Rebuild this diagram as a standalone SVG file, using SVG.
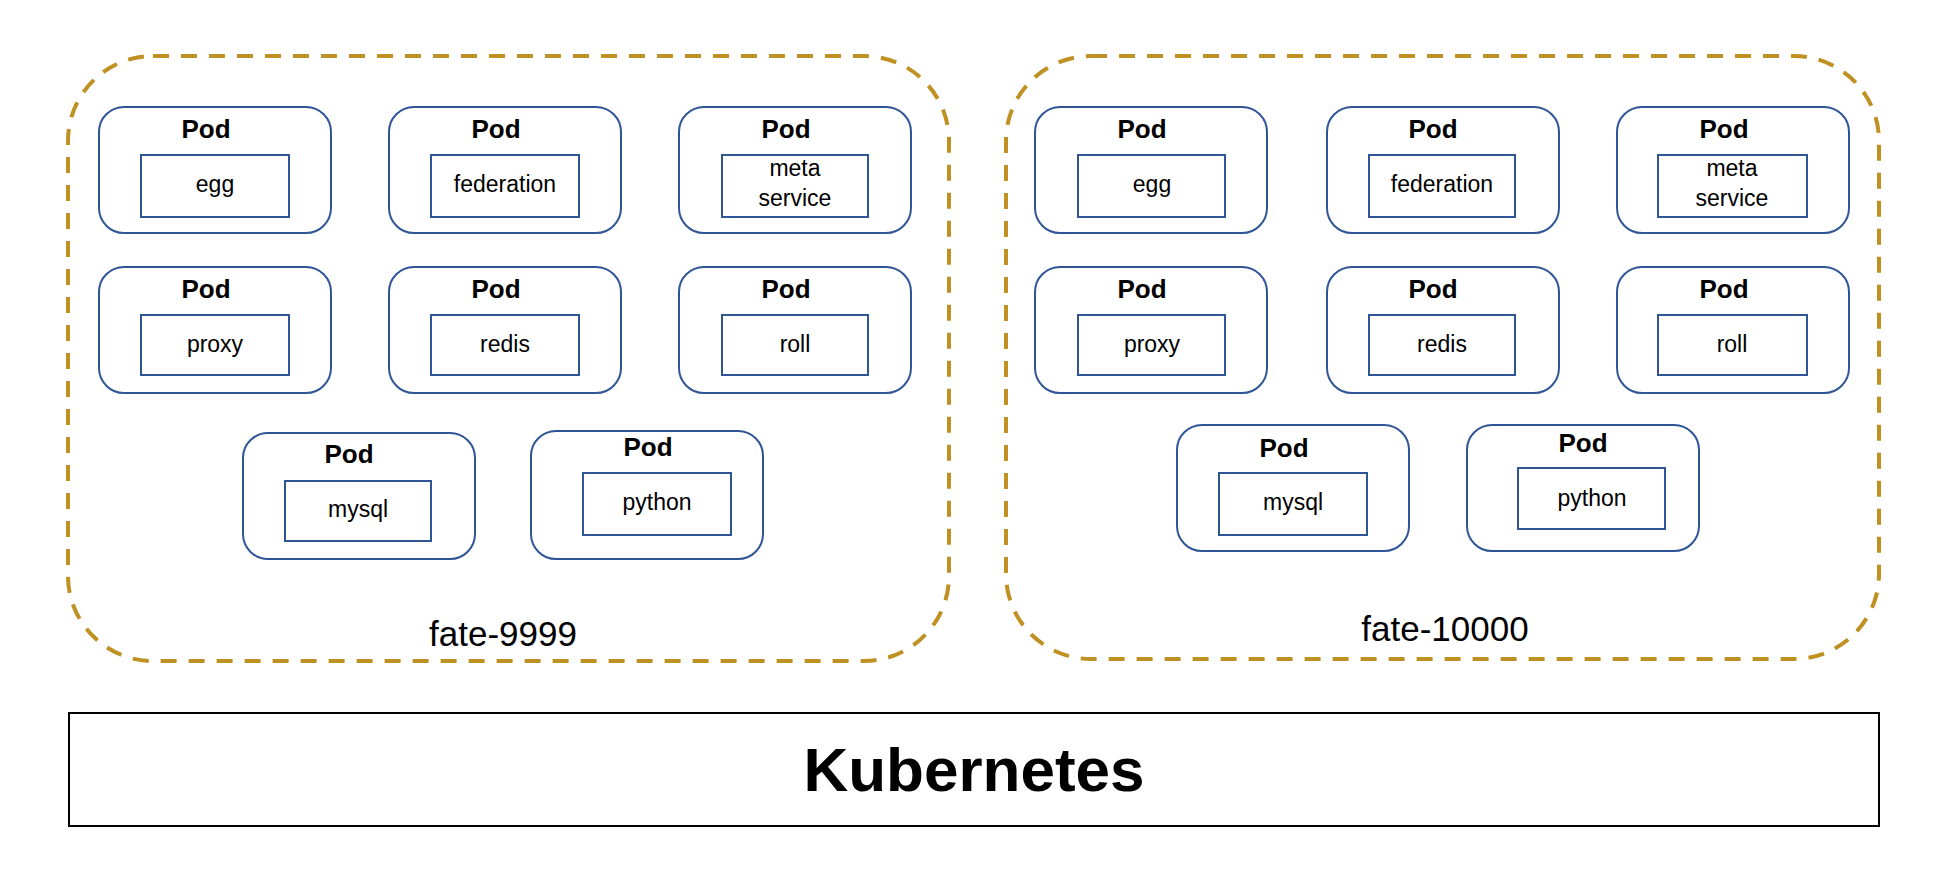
<svg xmlns="http://www.w3.org/2000/svg" width="1952" height="896" viewBox="0 0 1952 896">
<style>
.bg{fill:#ffffff}
.ns{fill:none;stroke:#BF9022;stroke-width:4;stroke-dasharray:16 12}
.pod{fill:#ffffff;stroke:#2F5597;stroke-width:2}
.in{fill:#ffffff;stroke:#2F5597;stroke-width:2}
.pt{font-family:"Liberation Sans",Arial,sans-serif;font-weight:bold;font-size:26px;fill:#000;text-anchor:middle}
.ct{font-family:"Liberation Sans",Arial,sans-serif;font-size:23px;fill:#000;text-anchor:middle}
.nl{font-family:"Liberation Sans",Arial,sans-serif;font-size:35px;fill:#000;text-anchor:middle}
.k8{fill:#ffffff;stroke:#000;stroke-width:2}
.kt{font-family:"Liberation Sans",Arial,sans-serif;font-weight:bold;font-size:62px;fill:#000;text-anchor:middle}
</style>
<rect class="bg" x="0" y="0" width="1952" height="896"/>

<g id="ns-fate-9999">
<rect class="ns" x="68" y="56" width="881" height="605" rx="85"/>
<text class="nl" x="503" y="646">fate-9999</text>
</g>
<g id="ns-fate-10000">
<rect class="ns" x="1006" y="56" width="873" height="603" rx="85"/>
<text class="nl" x="1445" y="641">fate-10000</text>
</g>

<!-- left namespace pods -->
<g id="l-egg"><rect class="pod" x="99" y="107" width="232" height="126" rx="25"/><text class="pt" x="206" y="138">Pod</text><rect class="in" x="141" y="155" width="148" height="62"/><text class="ct" x="215" y="192">egg</text></g>
<g id="l-federation"><rect class="pod" x="389" y="107" width="232" height="126" rx="25"/><text class="pt" x="496" y="138">Pod</text><rect class="in" x="431" y="155" width="148" height="62"/><text class="ct" x="505" y="192">federation</text></g>
<g id="l-meta-service"><rect class="pod" x="679" y="107" width="232" height="126" rx="25"/><text class="pt" x="786" y="138">Pod</text><rect class="in" x="722" y="155" width="146" height="62"/><text class="ct" x="795" y="176">meta</text><text class="ct" x="795" y="206">service</text></g>
<g id="l-proxy"><rect class="pod" x="99" y="267" width="232" height="126" rx="25"/><text class="pt" x="206" y="298">Pod</text><rect class="in" x="141" y="315" width="148" height="60"/><text class="ct" x="215" y="352">proxy</text></g>
<g id="l-redis"><rect class="pod" x="389" y="267" width="232" height="126" rx="25"/><text class="pt" x="496" y="298">Pod</text><rect class="in" x="431" y="315" width="148" height="60"/><text class="ct" x="505" y="352">redis</text></g>
<g id="l-roll"><rect class="pod" x="679" y="267" width="232" height="126" rx="25"/><text class="pt" x="786" y="298">Pod</text><rect class="in" x="722" y="315" width="146" height="60"/><text class="ct" x="795" y="352">roll</text></g>
<g id="l-mysql"><rect class="pod" x="243" y="433" width="232" height="126" rx="25"/><text class="pt" x="349" y="463">Pod</text><rect class="in" x="285" y="481" width="146" height="60"/><text class="ct" x="358" y="517">mysql</text></g>
<g id="l-python"><rect class="pod" x="531" y="431" width="232" height="128" rx="25"/><text class="pt" x="648" y="456">Pod</text><rect class="in" x="583" y="473" width="148" height="62"/><text class="ct" x="657" y="510">python</text></g>

<!-- right namespace pods -->
<g id="r-egg"><rect class="pod" x="1035" y="107" width="232" height="126" rx="25"/><text class="pt" x="1142" y="138">Pod</text><rect class="in" x="1078" y="155" width="147" height="62"/><text class="ct" x="1152" y="192">egg</text></g>
<g id="r-federation"><rect class="pod" x="1327" y="107" width="232" height="126" rx="25"/><text class="pt" x="1433" y="138">Pod</text><rect class="in" x="1369" y="155" width="146" height="62"/><text class="ct" x="1442" y="192">federation</text></g>
<g id="r-meta-service"><rect class="pod" x="1617" y="107" width="232" height="126" rx="25"/><text class="pt" x="1724" y="138">Pod</text><rect class="in" x="1658" y="155" width="149" height="62"/><text class="ct" x="1732" y="176">meta</text><text class="ct" x="1732" y="206">service</text></g>
<g id="r-proxy"><rect class="pod" x="1035" y="267" width="232" height="126" rx="25"/><text class="pt" x="1142" y="298">Pod</text><rect class="in" x="1078" y="315" width="147" height="60"/><text class="ct" x="1152" y="352">proxy</text></g>
<g id="r-redis"><rect class="pod" x="1327" y="267" width="232" height="126" rx="25"/><text class="pt" x="1433" y="298">Pod</text><rect class="in" x="1369" y="315" width="146" height="60"/><text class="ct" x="1442" y="352">redis</text></g>
<g id="r-roll"><rect class="pod" x="1617" y="267" width="232" height="126" rx="25"/><text class="pt" x="1724" y="298">Pod</text><rect class="in" x="1658" y="315" width="149" height="60"/><text class="ct" x="1732" y="352">roll</text></g>
<g id="r-mysql"><rect class="pod" x="1177" y="425" width="232" height="126" rx="25"/><text class="pt" x="1284" y="457">Pod</text><rect class="in" x="1219" y="473" width="148" height="62"/><text class="ct" x="1293" y="510">mysql</text></g>
<g id="r-python"><rect class="pod" x="1467" y="425" width="232" height="126" rx="25"/><text class="pt" x="1583" y="452">Pod</text><rect class="in" x="1518" y="468" width="147" height="61"/><text class="ct" x="1592" y="506">python</text></g>

<g id="kubernetes">
<rect class="k8" x="69" y="713" width="1810" height="113"/>
<text class="kt" x="974" y="791">Kubernetes</text>
</g>

<g id="connectors"></g>
</svg>
